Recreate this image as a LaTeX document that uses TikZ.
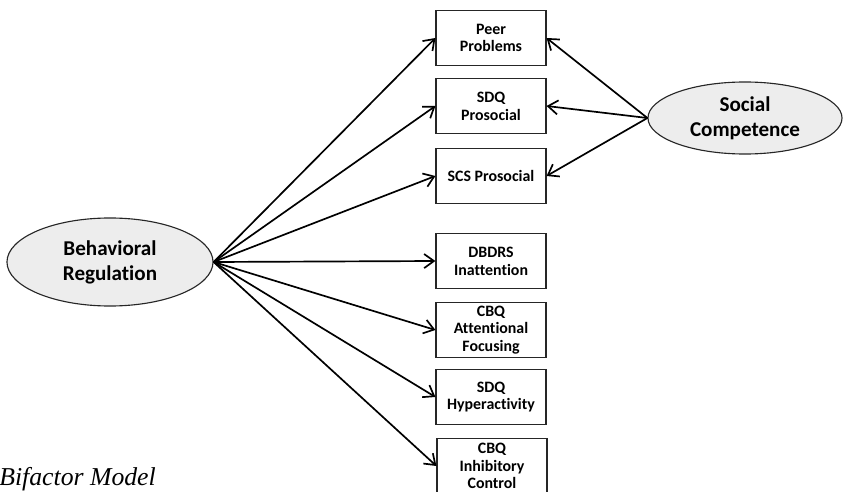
\documentclass[tikz,border=0pt]{standalone}
\usepackage{fontspec}
\setsansfont[Ligatures=NoCommon]{Carlito}
\newfontfamily\capfont{Liberation Serif}
\usetikzlibrary{arrows.meta,positioning,shapes.geometric}

\begin{document}
\begin{tikzpicture}[x=0.025cm, y=-0.025cm,
    ind/.style={draw=black!85, line width=0.8pt, fill=white, minimum width=2.75cm, minimum height=1.375cm,
      inner sep=1pt, align=center, font=\sffamily\bfseries\fontsize{11.3}{12.6}\selectfont},
    factor/.style={ellipse, draw=black!85, line width=0.8pt, fill=black!7, inner sep=0pt, align=center,
      font=\sffamily\bfseries\fontsize{15}{17.8}\selectfont},
    load/.style={-{Straight Barb[length=7pt,width=10pt]}, line width=1.2pt}
]
\useasboundingbox (0,0) rectangle (843,492);

% observed indicators
\node[ind] (peer) at (491,38) {Peer\\Problems};
\node[ind] (sdqp) at (491,106) {SDQ\\Prosocial};
\node[ind] (scsp) at (491,176) {SCS Prosocial};
\node[ind] (dbdrs) at (491,261) {DBDRS\\Inattention};
\node[ind] (cbqaf) at (491,330) {CBQ\\Attentional\\Focusing};
\node[ind] (sdqh) at (491,397) {SDQ\\Hyperactivity};
\node[ind] (cbqic) at (492,466) {CBQ\\Inhibitory\\Control};

% latent factors
\node[factor, minimum width=5.15cm, minimum height=2.2cm] (br) at (110,262) {Behavioral\\Regulation};
\node[factor, minimum width=4.85cm, minimum height=1.8cm] (sc) at (745,118) {Social\\Competence};

\foreach \t in {peer,sdqp,scsp,dbdrs,cbqaf,sdqh,cbqic}
  \draw[load] (br.east) -- (\t.west);
\foreach \t in {peer,sdqp,scsp}
  \draw[load] (sc.west) -- (\t.east);

\node[anchor=base west, inner sep=0pt, font=\capfont\itshape\fontsize{18.3}{20}\selectfont] (cap) at (-1,485) {Bifactor Model};
\end{tikzpicture}
\end{document}
